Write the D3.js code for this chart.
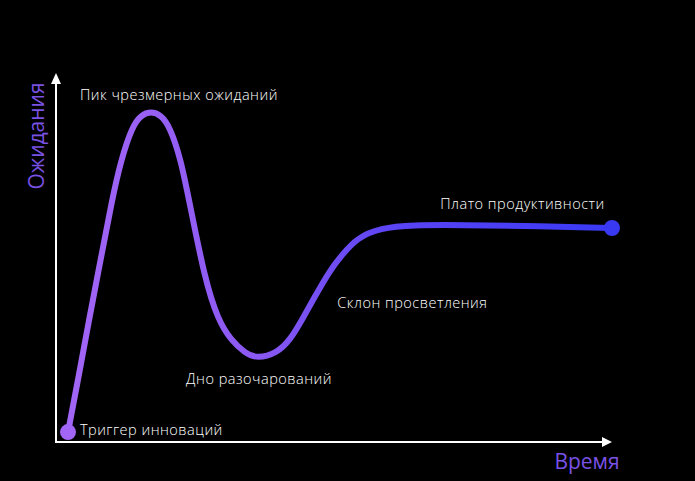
<!DOCTYPE html>
<html>
<head>
<meta charset="utf-8">
<script src="https://cdn.jsdelivr.net/npm/d3@7"></script>
<style>
  body { margin: 0; background: #000; }
  svg text { font-family: "Open Sans", "DejaVu Sans", sans-serif; }
</style>
</head>
<body>
<div id="vis"></div>
<script>
// Frame
const FRAME_WIDTH = 695;
const FRAME_HEIGHT = 481;

// Data: time (x) and expectations (y), 0..100
const TIME = [2.16, 3.96, 5.94, 8.02, 10.07, 11.69, 13.67, 15.29, 17.09, 18.88,
              20.50, 22.48, 23.92, 26.80, 29.14, 31.47, 33.99, 36.15, 39.75, 42.09,
              44.24, 46.22, 49.28, 51.44, 54.14, 58.27, 64.21, 72.66, 87.05, 100];
const EXPECT = [2.7, 16.8, 33.1, 49.3, 65.6, 76.4, 85.4, 88.6, 89.6, 88.6,
                85.4, 76.4, 65.6, 43.9, 33.1, 27.6, 24.1, 22.6, 24.1, 27.6,
                33.1, 38.5, 46.6, 50.7, 55.3, 58.0, 58.8, 58.8, 58.5, 58.0];

// phase labels and the point they belong to
const PHASES = ["Триггер инноваций", "Пик чрезмерных ожиданий", "Дно разочарований",
                "Склон просветления", "Плато продуктивности"];
const PHASE_T = [4.3, 4.3, 23.4, 50.6, 69.1];
const PHASE_E = [1.9, 92.7, 15.7, 36.3, 63.1];

const AXIS_LABELS = ["Время", "Ожидания"];

const X_SCALE = d3.scaleLinear().domain([0, 100]).range([56, 612]);
const Y_SCALE = d3.scaleLinear().domain([0, 100]).range([442, 73]);

const svg = d3.select("#vis")
  .append("svg")
    .attr("width", FRAME_WIDTH)
    .attr("height", FRAME_HEIGHT)
    .style("background", "#000");

// gradient for the curve
const grad = svg.append("defs").append("linearGradient")
    .attr("id", "hype")
    .attr("gradientUnits", "userSpaceOnUse")
    .attr("x1", X_SCALE(TIME[0])).attr("y1", 0)
    .attr("x2", X_SCALE(100)).attr("y2", 0);
grad.append("stop").attr("offset", "0%").attr("stop-color", "#a266f6");
grad.append("stop").attr("offset", "35%").attr("stop-color", "#8a58f2");
grad.append("stop").attr("offset", "60%").attr("stop-color", "#5a44f4");
grad.append("stop").attr("offset", "100%").attr("stop-color", "#3939f4");

// axes
const x0 = X_SCALE(0), y0 = Y_SCALE(0);
svg.append("line")
    .attr("x1", x0).attr("y1", y0)
    .attr("x2", X_SCALE(100) - 8).attr("y2", y0)
    .attr("stroke", "#fff").attr("stroke-width", 2);
svg.append("path")
    .attr("d", `M${X_SCALE(100)},${y0} L${X_SCALE(100) - 10},${y0 - 5} L${X_SCALE(100) - 10},${y0 + 5} Z`)
    .attr("fill", "#fff");
svg.append("line")
    .attr("x1", x0).attr("y1", y0 + 1)
    .attr("x2", x0).attr("y2", Y_SCALE(100) + 8)
    .attr("stroke", "#fff").attr("stroke-width", 2);
svg.append("path")
    .attr("d", `M${x0},${Y_SCALE(100)} L${x0 - 5},${Y_SCALE(100) + 11} L${x0 + 5},${Y_SCALE(100) + 11} Z`)
    .attr("fill", "#fff");

// axis titles
svg.append("text")
    .attr("x", 587).attr("y", 469)
    .attr("text-anchor", "middle")
    .attr("font-size", 21)
    .attr("fill", "#7a52e6")
    .text(AXIS_LABELS[0]);
svg.append("text")
    .attr("transform", "translate(44,136) rotate(-90)")
    .attr("text-anchor", "middle")
    .attr("font-size", 21)
    .attr("fill", "#7a52e6")
    .text(AXIS_LABELS[1]);

// curve
const points = TIME.map((t, i) => [t, EXPECT[i]]);
const line = d3.line()
    .x(d => X_SCALE(d[0]))
    .y(d => Y_SCALE(d[1]))
    .curve(d3.curveBasis);

svg.append("path")
    .datum(points)
    .attr("d", line)
    .attr("fill", "none")
    .attr("stroke", "url(#hype)")
    .attr("stroke-width", 6)
    .attr("stroke-linecap", "round")
    .attr("stroke-linejoin", "round");

// end dots
svg.append("circle")
    .attr("cx", X_SCALE(TIME[0])).attr("cy", Y_SCALE(EXPECT[0]))
    .attr("r", 8).attr("fill", "#a266f6");
svg.append("circle")
    .attr("cx", X_SCALE(TIME[TIME.length - 1])).attr("cy", Y_SCALE(EXPECT[EXPECT.length - 1]))
    .attr("r", 8).attr("fill", "#3939f4");

// phase labels
svg.selectAll(".phase")
  .data(PHASES)
  .enter()
  .append("text")
    .attr("class", "phase")
    .attr("x", (d, i) => X_SCALE(PHASE_T[i]))
    .attr("y", (d, i) => Y_SCALE(PHASE_E[i]))
    .attr("font-size", 14.5)
    .attr("font-weight", 300)
    .attr("letter-spacing", 0.5)
    .attr("fill", "#fff")
    .text(d => d);
</script>
</body>
</html>
